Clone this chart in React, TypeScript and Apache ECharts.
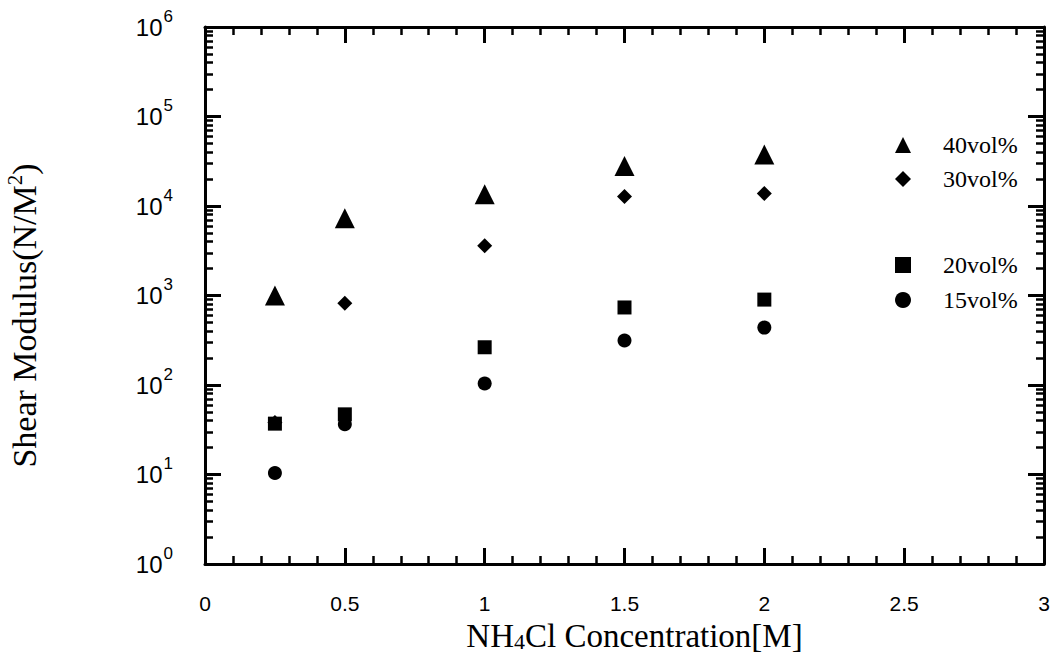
import React, { useEffect, useRef } from 'react';
import * as echarts from 'echarts';

// NH4Cl concentration [M]
const concentrations = [0.25, 0.5, 1, 1.5, 2];
// Shear modulus (N/M^2) for each solid volume fraction
const vol40 = [1000, 7300, 13500, 28000, 37500];
const vol30 = [38, 820, 3600, 12800, 13800];
const vol20 = [37, 47, 264, 735, 900];
const vol15 = [10.4, 36.5, 104, 314, 438];

const seriesNames = ['40vol%', '30vol%', '20vol%', '15vol%'];
const seriesSymbols = ['triangle', 'diamond', 'rect', 'circle'];
const seriesSizes = [20, 15, 14, 14];
const seriesValues = [vol40, vol30, vol20, vol15];

const xMin = 0;
const xMax = 3;
const xInterval = 0.5;
const xMinorStep = 0.1;
const yMin = 1;
const yMax = 1e6;
const decades = 6;

// Minor x ticks every 0.1 (skipping the major 0.5 ticks)
const minorXTicks: number[] = [];
for (let i = 0; i <= Math.round((xMax - xMin) / xMinorStep); i++) {
  if (i % 5 !== 0) minorXTicks.push(Math.round((xMin + i * xMinorStep) * 10) / 10);
}
// Minor log ticks (2..9 within each decade), in log10 space for helper axes
const minorLogTicks: number[] = [];
for (let d = 0; d < decades; d++) {
  for (let k = 2; k <= 9; k++) minorLogTicks.push(d + Math.log10(k));
}

const SANS = '"Liberation Sans", Arial, Helvetica, sans-serif';
const SERIF = '"Liberation Serif", "Times New Roman", Times, serif';

const mkAxisLine = () => ({ show: true, onZero: false, lineStyle: { color: '#000', width: 3 } });
const mkMajorTick = () => ({ show: true, inside: true, length: 16, lineStyle: { color: '#000', width: 3 } });
const mkMinorTick = (vals: number[]) => ({
  show: true,
  inside: true,
  length: 8,
  customValues: vals,
  lineStyle: { color: '#000', width: 2.5 },
});
const mkLegendText = () => ({ fontFamily: SERIF, fontSize: 24, color: '#000', lineHeight: 24, padding: [0, 0, 0, 27] });

const minorXAxis = (position: string) => ({
  type: 'value',
  min: xMin,
  max: xMax,
  interval: xInterval,
  position,
  axisLine: { show: false, onZero: false },
  axisTick: mkMinorTick(minorXTicks),
  axisLabel: { show: false },
  splitLine: { show: false },
});
const minorYAxis = (position: string) => ({
  type: 'value',
  min: 0,
  max: decades,
  interval: 1,
  position,
  axisLine: { show: false, onZero: false },
  axisTick: mkMinorTick(minorLogTicks),
  axisLabel: { show: false },
  splitLine: { show: false },
});

export default function App() {
  const ref = useRef<HTMLDivElement>(null);

  useEffect(() => {
    document.body.style.margin = '0';
    if (!ref.current) return;
    const chart = echarts.init(ref.current, undefined, { renderer: 'svg' });

    const option: any = {
      animation: false,
      backgroundColor: '#fff',
      grid: { left: 205, right: 18, top: 27, bottom: 92, containLabel: false, outerBoundsMode: 'none' },
      legend: [
        {
          data: [
            { name: seriesNames[0], icon: 'triangle' },
            { name: seriesNames[1], icon: 'diamond' },
          ],
          orient: 'vertical',
          left: 895,
          top: 133,
          padding: 0,
          itemWidth: 16,
          itemHeight: 16,
          itemGap: 10,
          textStyle: mkLegendText(),
        },
        {
          data: [
            { name: seriesNames[2], icon: 'rect' },
            { name: seriesNames[3], icon: 'circle' },
          ],
          orient: 'vertical',
          left: 895,
          top: 253,
          padding: 0,
          itemWidth: 16,
          itemHeight: 16,
          itemGap: 11,
          textStyle: mkLegendText(),
        },
      ],
      xAxis: [
        {
          type: 'value',
          min: xMin,
          max: xMax,
          interval: xInterval,
          position: 'bottom',
          axisLine: mkAxisLine(),
          axisTick: mkMajorTick(),
          splitLine: { show: false },
          axisLabel: { margin: 29, fontFamily: SANS, fontSize: 21, color: '#000' },
          name: '{n|NH}{sub|4}{n|Cl Concentration[M]}',
          nameLocation: 'middle',
          nameGap: 29,
          nameTextStyle: {
            padding: [0, 0, 0, 20],
            rich: {
              n: { fontFamily: SERIF, fontSize: 33, color: '#000', lineHeight: 34 },
              sub: { fontFamily: SERIF, fontSize: 22, color: '#000', lineHeight: 22, padding: [12, 0, 0, 0] },
            },
          },
        },
        {
          type: 'value',
          min: xMin,
          max: xMax,
          interval: xInterval,
          position: 'top',
          axisLine: mkAxisLine(),
          axisTick: mkMajorTick(),
          splitLine: { show: false },
          axisLabel: { show: false },
        },
        minorXAxis('bottom'),
        minorXAxis('top'),
      ],
      yAxis: [
        {
          type: 'log',
          logBase: 10,
          min: yMin,
          max: yMax,
          splitNumber: decades,
          position: 'left',
          axisLine: mkAxisLine(),
          axisTick: mkMajorTick(),
          splitLine: { show: false },
          axisLabel: {
            margin: 32,
            formatter: (v: number) => `{b|10}{s|${Math.round(Math.log10(v))}}`,
            rich: {
              b: { fontFamily: SANS, fontSize: 24, color: '#000', lineHeight: 26 },
              s: { fontFamily: SANS, fontSize: 17, color: '#000', lineHeight: 17, padding: [0, 0, 22, 1] },
            },
          },
          name: '{a|Shear Modulus(N/M}{s|2}{a|)}',
          nameLocation: 'middle',
          nameGap: 163,
          nameTextStyle: {
            padding: [0, 40, 0, 0],
            rich: {
              a: { fontFamily: SERIF, fontSize: 34, color: '#000', lineHeight: 36 },
              s: { fontFamily: SERIF, fontSize: 21, color: '#000', lineHeight: 21, padding: [0, 0, 18, 0] },
            },
          },
        },
        {
          type: 'value',
          min: 0,
          max: decades,
          interval: 1,
          position: 'right',
          axisLine: mkAxisLine(),
          axisTick: mkMajorTick(),
          axisLabel: { show: false },
          splitLine: { show: false },
        },
        minorYAxis('left'),
        minorYAxis('right'),
      ],
      series: seriesNames.map((name, si) => ({
        name,
        type: 'scatter',
        xAxisIndex: 0,
        yAxisIndex: 0,
        symbol: seriesSymbols[si],
        symbolSize: seriesSizes[si],
        itemStyle: { color: '#000', opacity: 1 },
        z: 3,
        data: concentrations.map((x, i) => [x, seriesValues[si][i]]),
      })),
    };

    chart.setOption(option);
    return () => chart.dispose();
  }, []);

  return <div ref={ref} style={{ width: 1062, height: 656 }} />;
}
